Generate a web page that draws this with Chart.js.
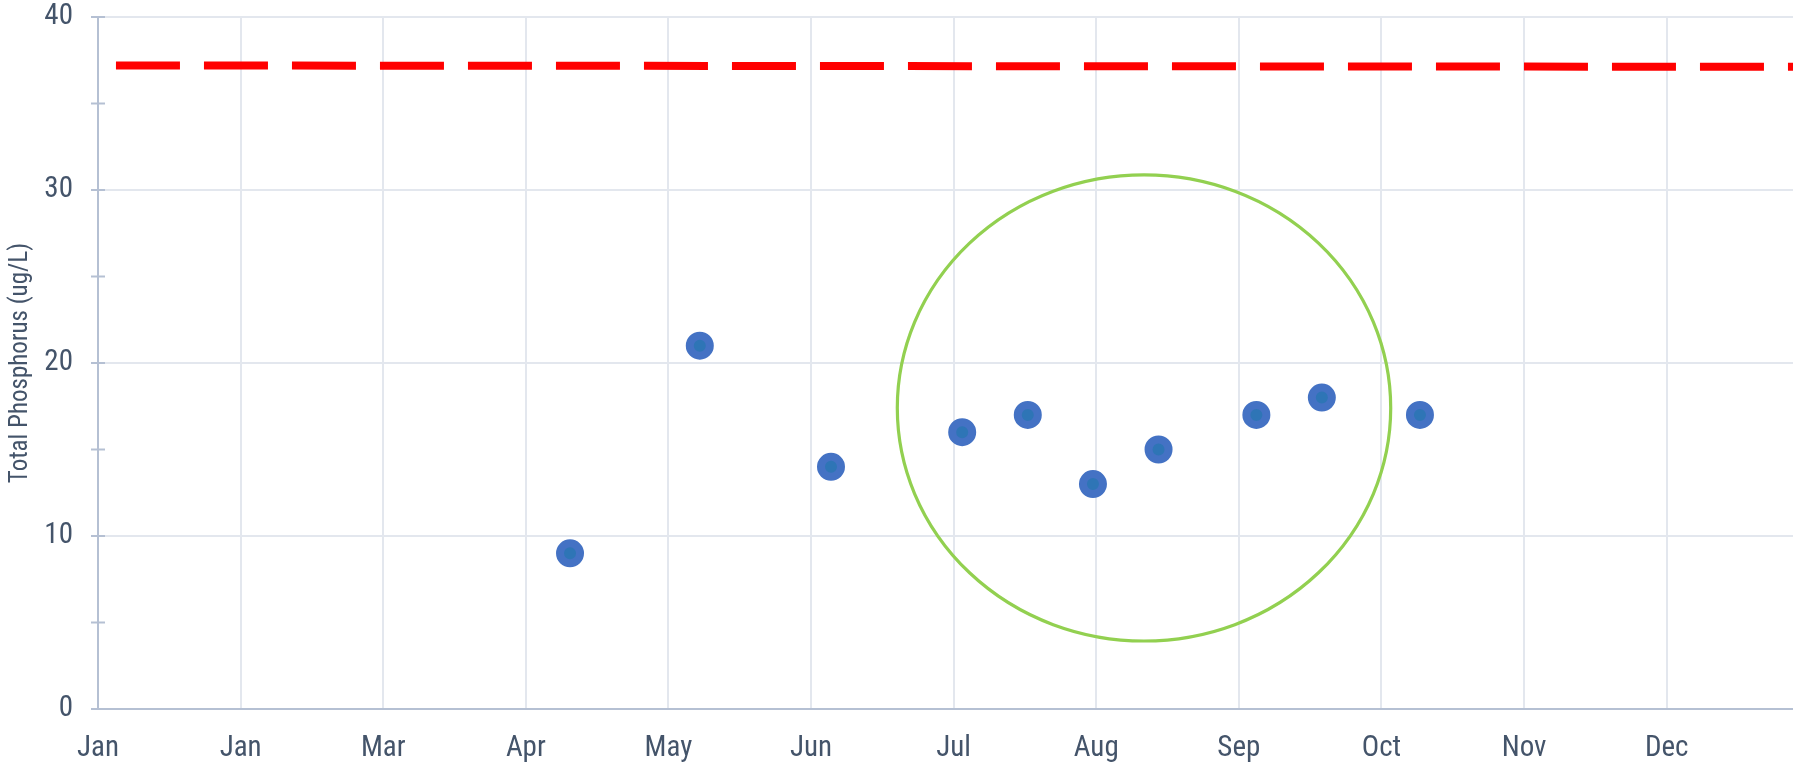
<!DOCTYPE html>
<html>
<head>
<meta charset="utf-8">
<script src="https://cdn.jsdelivr.net/npm/chart.js@4"></script>
<style>
  html, body { margin: 0; padding: 0; background: #ffffff; }
  #wrap { width: 1793px; height: 763px; position: relative; }
</style>
</head>
<body>
<div id="wrap"><canvas id="c" width="1793" height="763"></canvas></div>
<script>
// ---- data ----
const monthLabels = ["Jan", "Jan", "Mar", "Apr", "May", "Jun", "Jul", "Aug", "Sep", "Oct", "Nov", "Dec"];
const sampleX = [3.31, 4.22, 5.14, 6.06, 6.52, 6.977, 7.437, 8.123, 8.582, 9.27];
const sampleY = [9, 21, 14, 16, 17, 13, 15, 17, 18, 17];
const limitX = [0.126, 12];
const limitY = [37.2, 37.12];
const yTicks = [0, 5, 10, 15, 20, 25, 30, 35, 40];
const yLabelled = [0, 10, 20, 30, 40];
const ellipseCenter = [7.335, 17.4];
const ellipseRadius = [1.73, 13.47];
const xMax = 11.886;

const FONT = "'Roboto Condensed', 'Liberation Sans Narrow', 'Roboto', 'Liberation Sans', sans-serif";
const TEXT = '#44546a';
const AXIS = '#b5c0d3';
const GRID = '#e3e7ee';

function zeroPad(s) { s.paddingTop = 0; s.paddingBottom = 0; s.paddingLeft = 0; s.paddingRight = 0; }

const yTickMarks = {
  id: 'yTickMarks',
  afterDraw(chart) {
    const ctx = chart.ctx, ys = chart.scales.y;
    const x = ys.right;
    ctx.save();
    ctx.strokeStyle = AXIS;
    ctx.lineWidth = 2;
    yTicks.forEach(v => {
      const py = ys.getPixelForValue(v);
      ctx.beginPath();
      ctx.moveTo(x - 7, py);
      ctx.lineTo(x + 7, py);
      ctx.stroke();
    });
    ctx.restore();
  }
};

const ellipsePlugin = {
  id: 'ellipse',
  afterDatasetsDraw(chart) {
    const ctx = chart.ctx, xs = chart.scales.x, ys = chart.scales.y;
    const cx = xs.getPixelForValue(ellipseCenter[0]);
    const cy = ys.getPixelForValue(ellipseCenter[1]);
    const rx = xs.getPixelForValue(ellipseCenter[0] + ellipseRadius[0]) - cx;
    const ry = cy - ys.getPixelForValue(ellipseCenter[1] + ellipseRadius[1]);
    ctx.save();
    ctx.strokeStyle = '#92d050';
    ctx.lineWidth = 3.2;
    ctx.beginPath();
    ctx.ellipse(cx, cy, rx, ry, 0, 0, Math.PI * 2);
    ctx.stroke();
    ctx.restore();
  }
};

new Chart(document.getElementById('c'), {
  type: 'scatter',
  data: {
    datasets: [
      {
        label: 'Total Phosphorus',
        data: sampleX.map((x, i) => ({ x: x, y: sampleY[i] })),
        backgroundColor: '#2e75b6',
        borderColor: '#4472c4',
        borderWidth: 8,
        pointRadius: 10,
        pointHoverRadius: 10,
        order: 1
      },
      {
        type: 'line',
        label: 'Limit',
        data: limitX.map((x, i) => ({ x: x, y: limitY[i] })),
        borderColor: '#ff0000',
        borderWidth: 8,
        borderDash: [64, 24],
        borderCapStyle: 'butt',
        pointRadius: 0,
        fill: false,
        clip: 0,
        order: 2
      }
    ]
  },
  options: {
    responsive: false,
    animation: false,
    events: [],
    layout: { autoPadding: false, padding: { top: 17, right: 0, bottom: 0, left: 0 } },
    plugins: { legend: { display: false }, tooltip: { enabled: false } },
    scales: {
      x: {
        type: 'linear',
        min: 0,
        max: xMax,
        afterFit(s) { s.height = 54; zeroPad(s); },
        afterBuildTicks(s) { s.ticks = monthLabels.map((_, i) => ({ value: i })); },
        ticks: {
          autoSkip: false,
          maxRotation: 0,
          color: TEXT,
          padding: 22,
          font: { family: FONT, size: 29 },
          callback: (v) => monthLabels[v] || ''
        },
        grid: { color: GRID, lineWidth: 2, drawTicks: false },
        border: { color: AXIS, width: 2 }
      },
      y: {
        min: 0,
        max: 40,
        afterFit(s) { s.width = 98; zeroPad(s); },
        afterBuildTicks(s) { s.ticks = yTicks.map(v => ({ value: v })); },
        ticks: {
          color: TEXT,
          padding: 25,
          font: { family: FONT, size: 29 },
          callback: (v) => yLabelled.includes(v) ? String(v) : ''
        },
        grid: {
          drawTicks: false,
          lineWidth: 2,
          color: (c) => (c.tick && yLabelled.includes(c.tick.value)) ? GRID : 'rgba(0,0,0,0)'
        },
        border: { color: AXIS, width: 2 },
        title: {
          display: true,
          text: 'Total Phosphorus (ug/L)',
          color: TEXT,
          font: { family: FONT, size: 25 },
          padding: { top: 6, bottom: 4 }
        }
      }
    }
  },
  plugins: [yTickMarks, ellipsePlugin]
});
</script>
</body>
</html>
